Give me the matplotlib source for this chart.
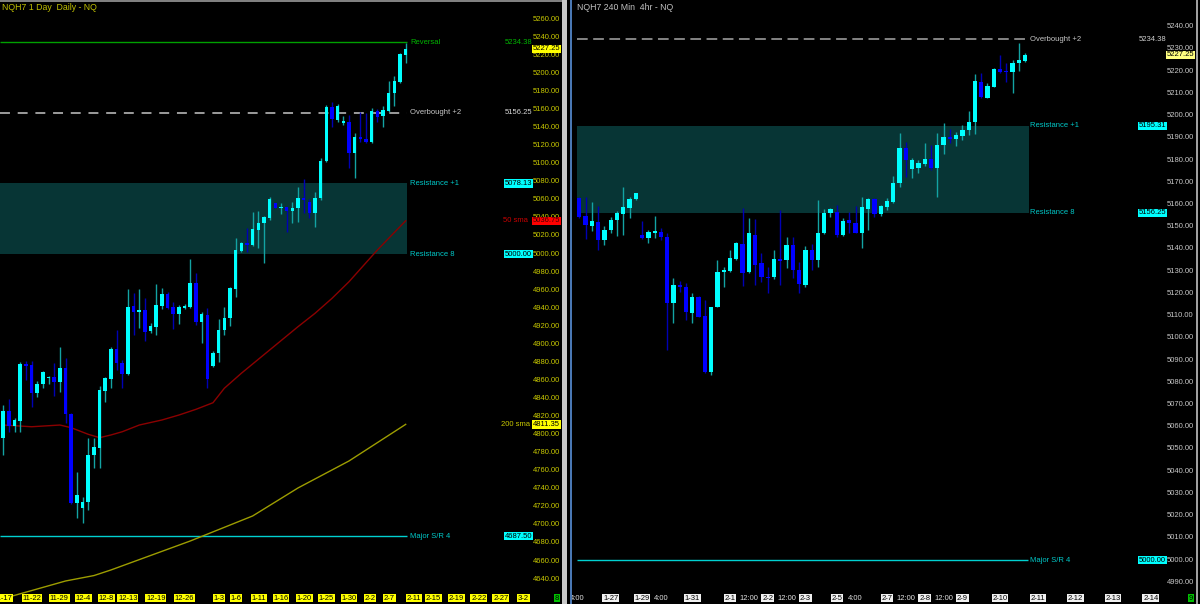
import matplotlib.pyplot as plt
from matplotlib.patches import Rectangle

FONT = ['Liberation Sans Narrow', 'Liberation Sans', 'DejaVu Sans']
plt.rcParams['font.family'] = FONT

# ---- daily NQH7 candles (oldest first) ----
day_open = [4795.9, 4826.1, 4809.9, 4815.4, 4877.8, 4877.1, 4846.4, 4855.7, 4862.3, 4864.1,
            4858.6, 4873.4, 4822.8, 4723.9, 4718.3, 4725.7, 4777.4, 4784.8, 4848.3, 4861.2,
            4894.8, 4878.9, 4866.7, 4942.4, 4935.4, 4938.0, 4914.7, 4919.5, 4942.4, 4955.7,
            4940.9, 4933.2, 4940.5, 4941.7, 4967.5, 4925.0, 4932.4, 4876.0, 4890.1, 4915.9,
            4928.8, 4960.9, 5003.8, 5012.6, 5010.0, 5026.6, 5034.0, 5039.6, 5056.2, 5050.6,
            5051.7, 5047.7, 5051.4, 5062.4, 5058.0, 5045.1, 5061.7, 5103.4, 5163.2, 5148.4,
            5145.5, 5146.6, 5111.5, 5130.0, 5127.4, 5124.5, 5158.4, 5152.9, 5158.8, 5178.0,
            5190.9, 5220.4]
day_high = [4832.8, 4839.4, 4818.0, 4880.8, 4881.5, 4881.5, 4859.3, 4870.4, 4865.2, 4878.9,
            4897.4, 4885.2, 4823.5, 4758.9, 4731.3, 4795.9, 4795.9, 4854.2, 4864.1, 4897.4,
            4915.8, 4882.6, 4961.2, 4957.2, 4960.8, 4951.6, 4923.9, 4966.4, 4962.0, 4958.3,
            4947.2, 4943.5, 4944.2, 4994.1, 4978.6, 4936.1, 4939.9, 4892.6, 4927.7, 4941.7,
            4963.9, 5017.4, 5013.7, 5029.2, 5046.9, 5047.7, 5042.1, 5063.5, 5056.9, 5056.2,
            5052.5, 5058.0, 5074.6, 5082.7, 5060.6, 5069.1, 5106.0, 5165.1, 5168.7, 5166.2,
            5152.9, 5154.0, 5134.4, 5157.7, 5155.8, 5161.4, 5160.3, 5163.9, 5191.6, 5197.2,
            5222.3, 5233.3]
day_low = [4777.4, 4803.2, 4803.2, 4803.2, 4860.4, 4830.9, 4842.0, 4852.0, 4855.7, 4842.7,
           4847.5, 4812.5, 4723.1, 4707.3, 4701.7, 4716.5, 4762.6, 4762.6, 4836.5, 4852.0,
           4871.5, 4852.0, 4866.0, 4910.3, 4917.7, 4904.0, 4912.1, 4910.3, 4938.7, 4938.7,
           4916.6, 4922.5, 4939.4, 4939.8, 4921.4, 4901.1, 4851.3, 4875.3, 4880.8, 4910.4,
           4920.3, 4952.8, 5002.7, 5002.7, 5008.9, 5007.1, 4989.7, 5037.7, 5050.6, 5044.0,
           5024.8, 5034.0, 5035.9, 5045.1, 5039.6, 5030.3, 5059.9, 5102.3, 5140.3, 5146.6,
           5142.9, 5094.9, 5083.8, 5124.5, 5122.6, 5122.6, 5146.6, 5141.1, 5157.7, 5163.9,
           5189.8, 5211.2]
day_close = [4826.5, 4809.5, 4816.2, 4877.8, 4876.0, 4846.4, 4855.7, 4869.7, 4864.1, 4858.6,
             4873.4, 4822.8, 4723.9, 4733.1, 4725.7, 4777.4, 4786.6, 4849.4, 4862.3, 4894.8,
             4878.9, 4866.7, 4941.7, 4936.1, 4938.0, 4914.0, 4920.2, 4943.5, 4955.7, 4939.8,
             4933.5, 4940.9, 4942.4, 4967.5, 4925.0, 4933.2, 4861.2, 4890.8, 4915.9, 4928.8,
             4962.0, 5004.5, 5012.6, 5010.0, 5027.4, 5034.8, 5040.7, 5060.6, 5051.4, 5052.5,
             5047.7, 5051.4, 5062.4, 5059.9, 5045.1, 5062.4, 5103.4, 5163.2, 5149.2, 5163.9,
             5147.7, 5111.5, 5130.0, 5127.0, 5124.5, 5158.4, 5152.1, 5159.5, 5178.0, 5191.6,
             5221.5, 5227.25]

# moving averages (bar index, value)
sma50_idx = [0, 5, 10, 12, 15, 17, 19, 21, 24, 28, 31, 34, 37, 39, 42, 47, 52, 55, 58, 61, 66, 68, 71]
sma50_val = [4810.6, 4808.7, 4810.6, 4807.6, 4800.3, 4796.6, 4799.6, 4803.2, 4810.6, 4816.2, 4821.7,
             4828.0, 4835.3, 4851.3, 4867.9, 4893.7, 4919.5, 4934.3, 4950.9, 4969.3, 5004.4, 5017.4, 5036.75]
sma200_idx = [0, 1, 11, 16, 19, 33, 44, 52, 61, 71]
sma200_val = [4618.0, 4620.2, 4637.9, 4643.9, 4650.1, 4682.2, 4709.9, 4740.9, 4770.8, 4811.35]

day_dates = ['11-17', '11-22', '11-29', '12-4', '12-8', '12-13', '12-19', '12-26', '1-3', '1-6', '1-11',
             '1-16', '1-20', '1-25', '1-30', '2-2', '2-7', '2-11', '2-15', '2-19', '2-22', '2-27', '3-2']
day_date_pos = [0, 5.1, 9.9, 14.1, 18.2, 22.0, 26.9, 32.0, 38.1, 41.1, 45.1,
                49.0, 53.1, 57.0, 61.0, 64.7, 68.1, 72.4, 75.9, 80.0, 83.9, 87.8, 91.8]

# ---- 240 min NQH7 candles ----
h4_open = [5162.8, 5154.8, 5150.5, 5152.3, 5144.0, 5148.5, 5153.0, 5155.6, 5158.6, 5162.3,
           5146.1, 5145.1, 5147.3, 5147.6, 5145.2, 5115.8, 5123.8, 5123.0, 5111.3, 5118.5,
           5110.0, 5084.8, 5114.0, 5129.5, 5130.0, 5135.3, 5142.2, 5129.8, 5146.3, 5133.5,
           5127.5, 5127.2, 5135.3, 5135.0, 5141.8, 5130.5, 5123.8, 5139.5, 5135.0, 5147.3,
           5156.0, 5156.8, 5146.3, 5153.0, 5151.8, 5147.3, 5157.8, 5162.3, 5155.7, 5159.0,
           5161.3, 5169.5, 5185.6, 5175.8, 5176.6, 5178.1, 5180.5, 5176.3, 5186.8, 5190.2,
           5189.3, 5190.8, 5193.5, 5197.0, 5215.3, 5208.1, 5213.0, 5220.8, 5220.2, 5219.8,
           5223.5, 5224.7]
h4_high = [5163.5, 5163.2, 5161.3, 5159.5, 5150.3, 5154.5, 5157.1, 5167.7, 5163.5, 5165.3,
           5152.7, 5148.5, 5154.8, 5149.3, 5147.3, 5126.8, 5125.5, 5124.5, 5120.0, 5118.8,
           5117.0, 5114.0, 5135.0, 5131.7, 5139.5, 5143.3, 5158.3, 5154.1, 5153.3, 5138.0,
           5132.0, 5139.5, 5157.5, 5145.2, 5145.5, 5134.3, 5141.3, 5142.2, 5162.0, 5157.8,
           5158.3, 5159.8, 5153.8, 5156.8, 5159.3, 5163.5, 5162.8, 5162.8, 5159.8, 5162.8,
           5172.8, 5192.3, 5188.3, 5180.8, 5180.0, 5187.5, 5186.8, 5192.0, 5196.8, 5193.8,
           5192.8, 5195.8, 5202.1, 5218.6, 5219.3, 5214.5, 5221.6, 5227.3, 5223.5, 5225.0,
           5232.5, 5228.3]
h4_low = [5154.0, 5144.3, 5148.2, 5139.5, 5141.8, 5147.0, 5145.8, 5146.3, 5154.0, 5162.0,
          5144.3, 5142.8, 5145.1, 5144.0, 5094.5, 5106.8, 5120.8, 5108.0, 5106.8, 5109.5,
          5084.0, 5083.3, 5113.7, 5123.0, 5129.8, 5135.0, 5123.3, 5129.0, 5123.8, 5125.3,
          5120.0, 5126.3, 5123.8, 5131.3, 5126.8, 5120.0, 5123.0, 5130.5, 5132.0, 5146.7,
          5154.2, 5145.5, 5145.8, 5147.0, 5147.0, 5140.3, 5148.5, 5154.5, 5154.8, 5157.5,
          5160.8, 5168.0, 5172.5, 5171.8, 5174.0, 5177.3, 5175.5, 5163.5, 5182.7, 5187.5,
          5186.3, 5189.0, 5191.3, 5191.7, 5207.8, 5207.8, 5212.7, 5219.3, 5215.3, 5210.3,
          5220.2, 5224.3]
h4_close = [5154.5, 5150.8, 5152.6, 5144.0, 5148.5, 5153.0, 5156.0, 5159.0, 5162.3, 5165.0,
            5145.1, 5147.6, 5148.1, 5145.5, 5115.8, 5123.8, 5122.7, 5111.8, 5118.5, 5109.5,
            5084.8, 5114.0, 5129.8, 5130.5, 5135.8, 5142.5, 5129.3, 5147.0, 5132.8, 5127.2,
            5127.1, 5135.3, 5134.7, 5141.8, 5130.5, 5124.2, 5139.5, 5135.0, 5147.3, 5156.0,
            5157.8, 5146.3, 5152.7, 5151.8, 5147.3, 5159.0, 5162.3, 5155.7, 5159.3, 5161.7,
            5169.8, 5185.6, 5180.0, 5180.0, 5178.5, 5180.5, 5176.3, 5186.8, 5190.2, 5189.3,
            5191.3, 5193.5, 5197.0, 5215.7, 5208.5, 5213.5, 5221.0, 5219.8, 5219.8, 5223.8,
            5225.0, 5227.25]

h4_dates = ['4:00', '1-27', '1-29', '4:00', '1-31', '2-1', '12:00', '2-2', '12:00', '2-3', '2-5', '4:00',
            '2-7', '12:00', '2-8', '12:00', '2-9', '2-10', '2-11', '2-12', '2-13', '2-14']
h4_date_pos = [-0.3, 5, 10, 13, 18, 24, 27, 30, 33, 36, 41, 44, 49, 52, 55, 58, 61, 67, 73, 79, 85, 91]

# levels
day_reversal = 5234.38
day_overbought = 5156.25
day_res_hi, day_res_lo = 5078.13, 5000.00
day_major = 4687.50
day_sma50_last, day_sma200_last = 5036.75, 4811.35
last_price = 5227.25

h4_overbought = 5234.38
h4_res_hi, h4_res_lo = 5195.31, 5156.25
h4_major = 5000.00

W, H = 1200, 604
fig = plt.figure(figsize=(12, 6.04), dpi=100, facecolor='black')
axL = fig.add_axes([0, 0, 563 / W, 1])
axR = fig.add_axes([571 / W, 0, 625 / W, 1])
for ax in (axL, axR):
    ax.set_facecolor('black')
    ax.set_xticks([])
    ax.set_yticks([])
    for s in ax.spines.values():
        s.set_visible(False)

axL.set_xlim(-0.58, 98.76)
axL.set_ylim(4612.4, 5281.3)
axR.set_xlim(-1.32, 98.2)
axR.set_ylim(4980.2, 5252.0)

UP, DOWN = '#00ffff', '#0000ff'
UP_WICK, DOWN_WICK = '#13a3a3', '#0000b4'
FS = 5.5


def candles(ax, o, h, l, c, width, min_body):
    x = list(range(len(o)))
    up = [cc >= oo for oo, cc in zip(o, c)]
    ax.vlines(x, l, h, colors=[UP_WICK if u else DOWN_WICK for u in up], lw=1, zorder=3)
    bottoms = [min(oo, cc) for oo, cc in zip(o, c)]
    heights = [max(abs(cc - oo), min_body) for oo, cc in zip(o, c)]
    ax.bar(x, heights, width, bottom=bottoms, color=[UP if u else DOWN for u in up],
           linewidth=0, zorder=4)


def boxed(ax, x, y, s, fc, tc='black', fs=FS, **kw):
    ax.text(x, y, s, color=tc, fontsize=fs, va='center', ha='left',
            bbox=dict(boxstyle='square,pad=0.1', fc=fc, ec='none'), zorder=6, **kw)


# ---------------- left: daily ----------------
axL.add_patch(Rectangle((-0.58, day_res_lo), 71.8, day_res_hi - day_res_lo,
                        facecolor='#073535', edgecolor='none', zorder=1))
axL.hlines(day_reversal, -0.58, 71.2, color='#00a000', lw=1, zorder=2)
axL.hlines(day_overbought, -0.58, 71.2, color='#a8a8a8', lw=1.3, linestyles=(0, (5.5, 4.3)), zorder=2)
axL.hlines(day_major, -0.58, 71.2, color='#00d0d0', lw=1, zorder=2)
axL.plot(sma50_idx, sma50_val, color='#8b0000', lw=1, zorder=2)
axL.plot(sma200_idx, sma200_val, color='#9d9d00', lw=1, zorder=2)
candles(axL, day_open, day_high, day_low, day_close, 0.64, 0.9)

lx = 71.8
axL.text(lx, day_reversal, 'Reversal', color='#00b400', fontsize=FS, va='center')
axL.text(lx, day_overbought, 'Overbought +2', color='#c8c8c8', fontsize=FS, va='center')
axL.text(lx, day_res_hi, 'Resistance +1', color='#00c8c8', fontsize=FS, va='center')
axL.text(lx, day_res_lo, 'Resistance 8', color='#00c8c8', fontsize=FS, va='center')
axL.text(lx, day_major, 'Major S/R 4', color='#00c8c8', fontsize=FS, va='center')

tl = axL.get_yaxis_transform()
vx = 505 / 563
axL.text(vx, day_reversal, f'{day_reversal:.2f}', color='#00b400', fontsize=FS, va='center', transform=tl)
axL.text(vx, day_overbought, f'{day_overbought:.2f}', color='#d8d8d8', fontsize=FS, va='center', transform=tl)
boxed(axL, vx, day_res_hi, f'{day_res_hi:.2f}', '#00ffff', transform=tl)
boxed(axL, vx, day_res_lo, f'{day_res_lo:.2f}', '#00ffff', transform=tl)
boxed(axL, vx, day_major, f'{day_major:.2f}', '#00ffff', transform=tl)
axL.text(503 / 563, day_sma50_last, '50 sma', color='#c80000', fontsize=FS, va='center', transform=tl)
axL.text(501 / 563, day_sma200_last, '200 sma', color='#c8c800', fontsize=FS, va='center', transform=tl)

px = 533 / 563
for v in range(4640, 5261, 20):
    axL.text(px, v, f'{v:.2f}', color='#c8c800', fontsize=FS, va='center', transform=tl)
boxed(axL, px, day_sma50_last, f'{day_sma50_last:.2f}', '#ff0000', tc='#400000', transform=tl)
boxed(axL, px, day_sma200_last, f'{day_sma200_last:.2f}', '#ffff00', transform=tl)
boxed(axL, px, last_price, f'{last_price:.2f}', '#ffff00', transform=tl)

tb = axL.get_xaxis_transform()
for lab, pos in zip(day_dates, day_date_pos):
    axL.text(pos, 6 / H, lab, color='black', fontsize=FS, ha='center', va='center', transform=tb,
             bbox=dict(boxstyle='square,pad=0.1', fc='#ffff00', ec='none'))
axL.text(557 / 563, 6 / H, '8', color='black', fontsize=FS, ha='center', va='center',
         transform=axL.transAxes, bbox=dict(boxstyle='square,pad=0.1', fc='#00c000', ec='none'))
axL.text(2 / 563, 1 - 7 / H, 'NQH7 1 Day  Daily - NQ', color='#c0c000', fontsize=FS + 0.8,
         va='center', transform=axL.transAxes)

# ---------------- right: 240 min ----------------
axR.add_patch(Rectangle((-0.37, h4_res_lo), 71.9, h4_res_hi - h4_res_lo,
                        facecolor='#073535', edgecolor='none', zorder=1))
axR.hlines(h4_overbought, -0.37, 71.5, color='#a8a8a8', lw=1.1, linestyles=(0, (7, 3.6)), zorder=2)
axR.hlines(h4_major, -0.37, 71.5, color='#00d0d0', lw=1, zorder=2)
candles(axR, h4_open, h4_high, h4_low, h4_close, 0.68, 0.35)

rx = 71.8
axR.text(rx, h4_overbought, 'Overbought +2', color='#c8c8c8', fontsize=FS, va='center')
axR.text(rx, h4_res_hi, 'Resistance +1', color='#00c8c8', fontsize=FS, va='center')
axR.text(rx, h4_res_lo, 'Resistance 8', color='#00c8c8', fontsize=FS, va='center')
axR.text(rx, h4_major, 'Major S/R 4', color='#00c8c8', fontsize=FS, va='center')

tr = axR.get_yaxis_transform()
vx = (1139 - 571) / 625
axR.text(vx, h4_overbought, f'{h4_overbought:.2f}', color='#d0d0d0', fontsize=FS, va='center', transform=tr)
boxed(axR, vx, h4_res_hi, f'{h4_res_hi:.2f}', '#00ffff', transform=tr)
boxed(axR, vx, h4_res_lo, f'{h4_res_lo:.2f}', '#00ffff', transform=tr)
boxed(axR, vx, h4_major, f'{h4_major:.2f}', '#00ffff', transform=tr)

px = (1167 - 571) / 625
for v in range(4990, 5241, 10):
    axR.text(px, v, f'{v:.2f}', color='#c8c8c8', fontsize=FS, va='center', transform=tr)
boxed(axR, px, last_price, f'{last_price:.2f}', '#ffff80', transform=tr)

tb = axR.get_xaxis_transform()
for lab, pos in zip(h4_dates, h4_date_pos):
    if ':' in lab:
        axR.text(pos, 6 / H, lab, color='#e0e0e0', fontsize=FS, ha='center', va='center',
                 transform=tb, clip_on=True)
    else:
        axR.text(pos, 6 / H, lab, color='black', fontsize=FS, ha='center', va='center', transform=tb,
                 bbox=dict(boxstyle='square,pad=0.1', fc='#f0f0f0', ec='none'))
axR.text((1191 - 571) / 625, 6 / H, '9', color='black', fontsize=FS, ha='center', va='center',
         transform=axR.transAxes, bbox=dict(boxstyle='square,pad=0.1', fc='#00c000', ec='none'))
axR.text(6 / 625, 1 - 7 / H, 'NQH7 240 Min  4hr - NQ', color='#c0c0c0', fontsize=FS + 0.8,
         va='center', transform=axR.transAxes)

# panel frames
fig.patches.append(Rectangle((562 / W, 0), 5 / W, 1, transform=fig.transFigure,
                             facecolor='#c8c8c8', edgecolor='none'))
fig.patches.append(Rectangle((570 / W, 0), 1.5 / W, 1, transform=fig.transFigure,
                             facecolor='#4a78b4', edgecolor='none'))
fig.patches.append(Rectangle((1196 / W, 0), 1.5 / W, 1, transform=fig.transFigure,
                             facecolor='#a0a0a0', edgecolor='none'))
fig.patches.append(Rectangle((0, 1 - 2 / H), 562 / W, 2 / H, transform=fig.transFigure,
                             facecolor='#808080', edgecolor='none'))

fig.savefig('out.png', dpi=100, facecolor='black')
